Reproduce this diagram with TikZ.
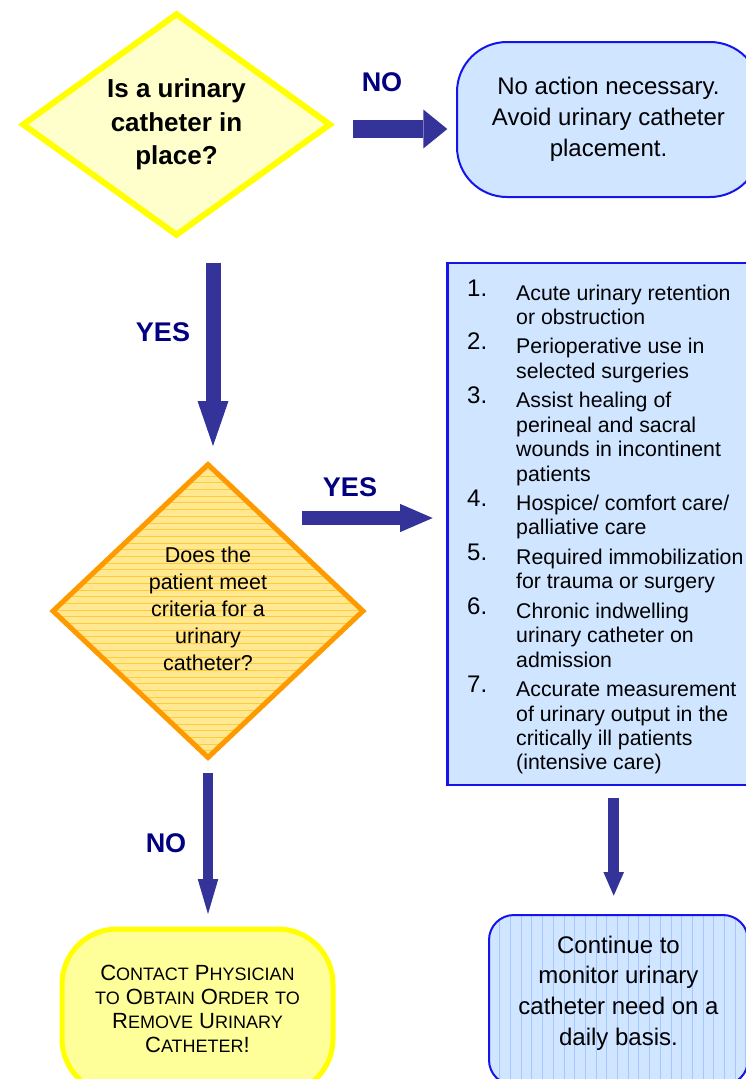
\documentclass[tikz,border=0pt]{standalone}
\usepackage{fontspec}
\setmainfont{Liberation Sans}
\usetikzlibrary{shapes.geometric,arrows.meta}

\definecolor{arrowblue}{RGB}{51,51,153}
\definecolor{labelnavy}{RGB}{0,0,128}
\definecolor{yellowline}{RGB}{255,255,0}
\definecolor{paleyellow}{RGB}{255,255,204}
\definecolor{lemon}{RGB}{255,255,153}
\definecolor{orangeline}{RGB}{255,153,0}
\definecolor{goldfill}{RGB}{255,232,145}
\definecolor{goldstripe}{RGB}{255,204,51}
\definecolor{boxblue}{RGB}{20,20,235}
\definecolor{paleblue}{RGB}{208,229,255}
\definecolor{bluestripe}{RGB}{165,198,255}

% list entry number, slightly larger and raised
\newcommand\itemno[1]{\makebox[49pt][l]{\raisebox{4pt}[0pt][0pt]{\fontsize{24}{24.4}\selectfont #1.}}}
% small capitals built from a smaller size
\newcommand\sml[1]{{\fontsize{18}{24.2}\selectfont #1}}

\begin{document}
\begin{tikzpicture}[x=1pt,y=-1pt,
  label/.style={font=\fontsize{27}{30}\selectfont\bfseries, text=labelnavy, inner sep=0pt},
  blockarrow/.style n args={3}{line width=#1, draw=arrowblue,
     -{Triangle[width=#2, length=#3, line width=0pt]}},
  question/.style={diamond, inner sep=0pt},
  bluebox/.style={rectangle, draw=boxblue, line width=2pt, fill=paleblue, inner sep=0pt},
]
\useasboundingbox (0,0) rectangle (746,1079);
\clip (0,0) rectangle (746,1079);

% first question
\node[question, draw=yellowline, line width=6pt, fill=paleyellow,
      minimum width=309pt, minimum height=223pt, aspect=1.38,
      font=\fontsize{26}{33.5}\selectfont\bfseries] (q1) at (176.5,124.5)
  {\begin{tabular}{@{}c@{}}Is a urinary\\catheter in\\place?\end{tabular}};

% no catheter in place
\node[bluebox, rounded corners=50pt, minimum width=303pt, minimum height=155pt,
      font=\fontsize{24}{31.2}\selectfont] (noact) at (608.5,119.5)
  {\begin{tabular}{@{}c@{}}No action necessary.\\Avoid urinary catheter\\placement.\end{tabular}};

% second question, striped
\node[question, draw=orangeline, line width=5pt, fill=goldfill,
      minimum width=312pt, minimum height=295pt, aspect=1.06,
      font=\fontsize{21.5}{27.2}\selectfont,
      path picture={\foreach \k in {0,...,46}{
        \draw[goldstripe, line width=0.8pt]
          ([yshift=\k*6.7pt]path picture bounding box.south west) --
          ([yshift=\k*6.7pt]path picture bounding box.south east);}}] (q2) at (208,611)
  {\begin{tabular}{@{}c@{}}Does the\\patient meet\\criteria for a\\urinary\\catheter?\end{tabular}};

% criteria list
\node[bluebox, line width=2.5pt, minimum width=313pt, minimum height=522pt] (crit) at (604,524) {};
\node[anchor=base west, inner sep=0pt, font=\fontsize{21.3}{24.4}\selectfont] (critlist) at (467,300)
  {\begin{tabular}[t]{@{}l@{}l@{}}
   \itemno{1} & Acute urinary retention\\
              & or obstruction\\[5.1pt]
   \itemno{2} & Perioperative use in\\
              & selected surgeries\\[5.1pt]
   \itemno{3} & Assist healing of\\
              & perineal and sacral\\
              & wounds in incontinent\\
              & patients\\[5.1pt]
   \itemno{4} & Hospice/ comfort care/\\
              & palliative care\\[5.1pt]
   \itemno{5} & Required immobilization\\
              & for trauma or surgery\\[5.1pt]
   \itemno{6} & Chronic indwelling\\
              & urinary catheter on\\
              & admission\\[5.1pt]
   \itemno{7} & Accurate measurement\\
              & of urinary output in the\\
              & critically ill patients\\
              & (intensive care)
  \end{tabular}};

% remove the catheter
\node[rectangle, rounded corners=55pt, draw=yellowline, line width=5pt, fill=lemon,
      minimum width=271pt, minimum height=165pt, inner sep=0pt,
      font=\fontsize{22}{24.2}\selectfont] (remove) at (197.5,1011.5)
  {\begin{tabular}{@{}c@{}}C\sml{ONTACT} P\sml{HYSICIAN}\\\sml{TO} O\sml{BTAIN} O\sml{RDER} \sml{TO}\\R\sml{EMOVE} U\sml{RINARY}\\C\sml{ATHETER}!\end{tabular}};

% keep monitoring
\node[bluebox, rounded corners=25pt, minimum width=259pt, minimum height=170pt,
      path picture={\foreach \k in {0,...,25}{
        \draw[bluestripe, line width=0.7pt]
          ([xshift=\k*10.7pt]path picture bounding box.south west) --
          ([xshift=\k*10.7pt]path picture bounding box.north west);}}] (monitor) at (618.5,1000) {};
\node[inner sep=0pt, font=\fontsize{24}{30.6}\selectfont] (monitortext) at (618.5,993)
  {\begin{tabular}{@{}c@{}}Continue to\\monitor urinary\\catheter need on a\\daily basis.\end{tabular}};

% arrow end points
\coordinate (noS)   at (353,129);   \coordinate (noE)   at (447.3,129);
\coordinate (yesS)  at (213,262.7); \coordinate (yesE)  at (213,446);
\coordinate (critS) at (301.7,518); \coordinate (critE) at (432.7,518);
\coordinate (remS)  at (208,773);   \coordinate (remE)  at (208,914);
\coordinate (monS)  at (613.7,797.7); \coordinate (monE) at (613.7,895.7);

\draw[blockarrow={18.3pt}{39pt}{24pt}]   (noS) -- (noE);
\draw[blockarrow={15pt}{31pt}{45pt}]     (yesS) -- (yesE);
\draw[blockarrow={14.3pt}{28.3pt}{32.7pt}] (critS) -- (critE);
\draw[blockarrow={10.6pt}{20.6pt}{35pt}] (remS) -- (remE);
\draw[blockarrow={10.7pt}{20.7pt}{23.7pt}] (monS) -- (monE);

% branch labels
\node[label] (lno1)  at (382,82.5) {NO};
\node[label] (lyes1) at (163,332) {YES};
\node[label] (lyes2) at (350,487) {YES};
\node[label] (lno2)  at (166,843) {NO};
\end{tikzpicture}
\end{document}
